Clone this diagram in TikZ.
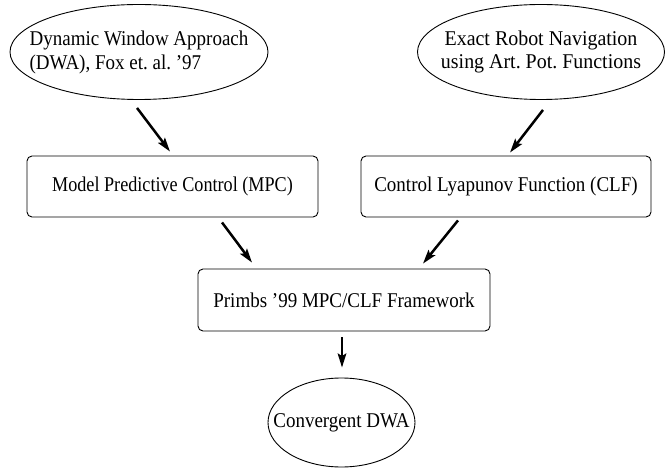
\documentclass[tikz,border=0pt]{standalone}
\usepackage{fontspec}
\setmainfont[FakeStretch=0.905]{Liberation Serif}
\newfontfamily\fsB[FakeStretch=0.95]{Liberation Serif}
\newfontfamily\fsC[FakeStretch=0.865]{Liberation Serif}
\usetikzlibrary{shapes.geometric,arrows.meta}
\begin{document}
\begin{tikzpicture}[x=1pt,y=-1pt,
  every node/.style={font=\fontsize{21}{24}\selectfont},
  oval/.style={draw,ellipse,line width=0.9pt,inner xsep=-30pt,inner ysep=0pt},
  rbox/.style={draw,rectangle,rounded corners=5pt,line width=0.9pt,inner sep=0pt},
  arr/.style={-{Stealth[length=14pt,width=8.5pt,inset=2.5pt]},line width=2.5pt}]
\useasboundingbox (0,0) rectangle (666,470);
\node[oval,minimum width=258pt,minimum height=95pt,align=left] (e1) at (139,52) {Dynamic Window Approach\\(DWA), Fox et.\ al.\ ’97};
\node[oval,minimum width=247pt,minimum height=95pt,align=center,font=\fontsize{21}{23}\fsB] (e2) at (541,52) {Exact Robot Navigation\\using Art.\ Pot.\ Functions};
\node[rbox,minimum width=291pt,minimum height=61pt,font=\fontsize{21}{24}\fsC] (mpc) at (172.5,186.5) {Model Predictive Control (MPC)};
\node[rbox,minimum width=290pt,minimum height=61pt] (clf) at (506,186.5) {Control Lyapunov Function (CLF)};
\node[rbox,minimum width=292pt,minimum height=62pt] (pr) at (344,300) {Primbs ’99 MPC/CLF Framework};
\node[oval,minimum width=147pt,minimum height=89pt] (cv) at (341.5,422.5) {Convergent DWA};
\draw[arr] ([xshift=-2pt,yshift=-8pt]e1.south) -- ([xshift=-2.5pt,yshift=4pt]mpc.north);
\draw[arr] ([xshift=2pt,yshift=-10pt]e2.south) -- ([xshift=4pt,yshift=3pt]clf.north);
\draw[arr] ([xshift=49.5pt,yshift=-5pt]mpc.south) -- ([xshift=-92pt,yshift=6pt]pr.north);
\draw[arr] ([xshift=-48pt,yshift=-3pt]clf.south) -- ([xshift=79pt,yshift=5pt]pr.north);
\draw[arr] ([xshift=-2pt,yshift=-6pt]pr.south) -- ([xshift=0.5pt,yshift=10pt]cv.north);
\end{tikzpicture}
\end{document}
